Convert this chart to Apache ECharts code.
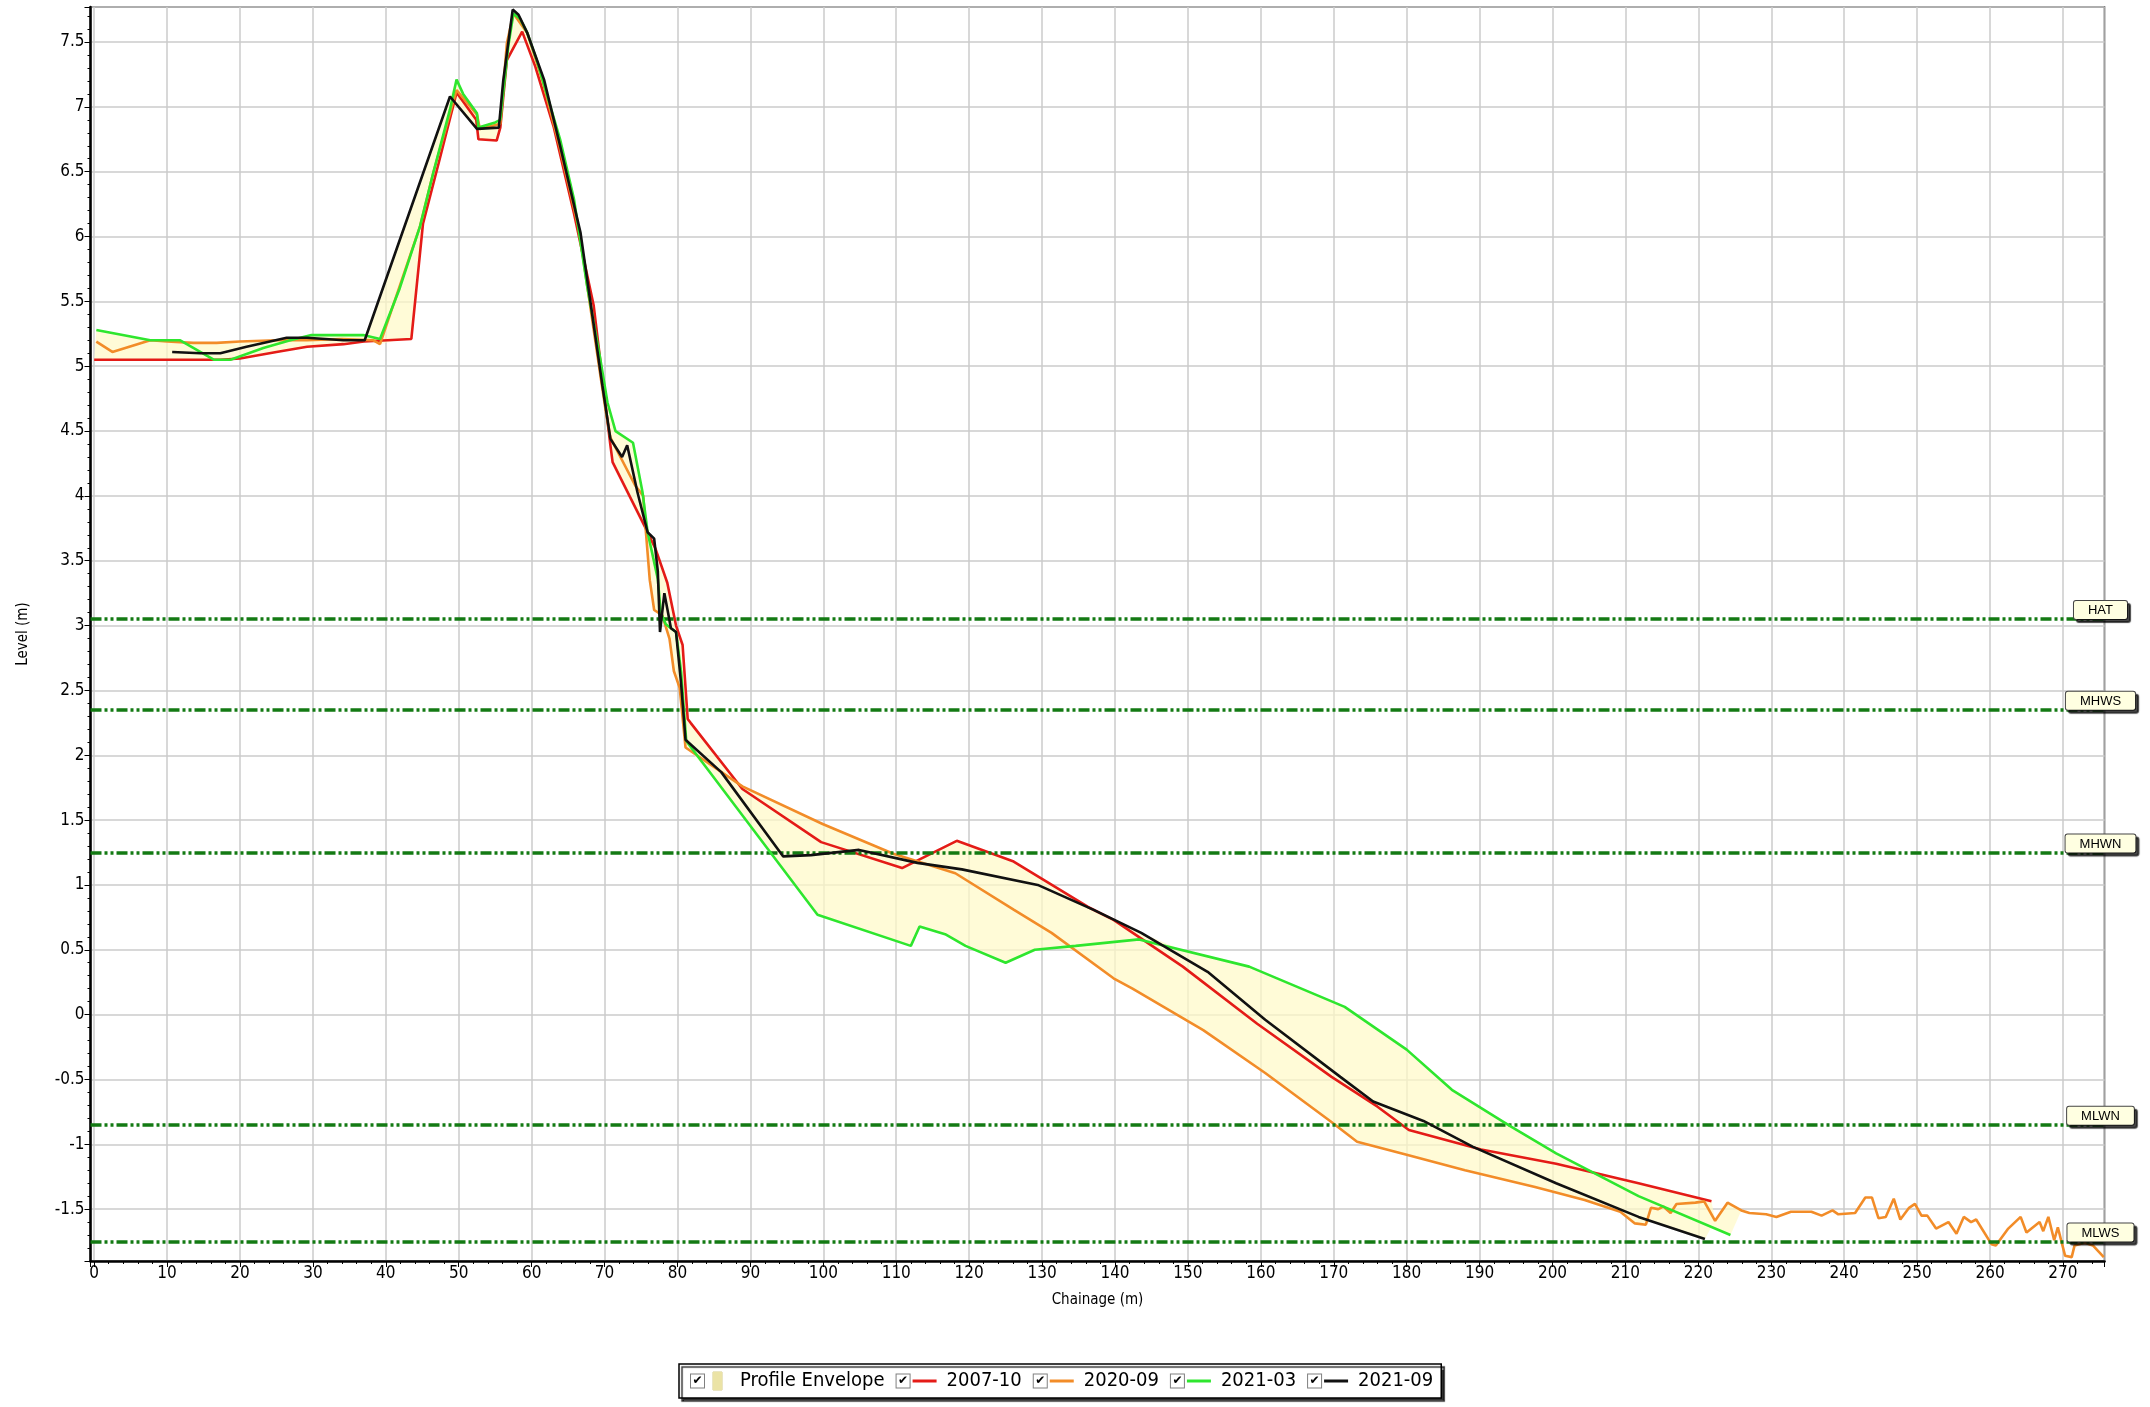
<!DOCTYPE html>
<html><head><meta charset="utf-8">
<script src="https://cdn.jsdelivr.net/npm/echarts@6/dist/echarts.min.js"></script>
<style>html,body{margin:0;padding:0;background:#fff}#c{width:2150px;height:1407px}</style>
</head><body><div id="c"></div>
<script>
// ---- Data (chainage m, level m) ----
const seriesNames = ['2007-10', '2020-09', '2021-03', '2021-09'];

const profile2007_10 = [[0,5.05],[17.3,5.05],[20,5.06],[25,5.11],[29.2,5.15],[34.2,5.17],[37,5.19],[43.5,5.21],[45.1,6.1],[47.4,6.6],[49.7,7.11],[52.4,6.9],[52.7,6.75],[55.2,6.74],[55.7,6.84],[56.6,7.36],[58.7,7.58],[60.5,7.31],[63,6.85],[65.8,6.18],[68.5,5.47],[70.8,4.39],[71.1,4.26],[75.9,3.72],[77,3.59],[78.6,3.33],[79.8,3.0],[80.7,2.85],[81.4,2.28],[81.8,2.25],[88.9,1.74],[99.7,1.33],[110.8,1.13],[118.3,1.34],[126.1,1.18],[136.3,0.83],[139.8,0.73],[149.3,0.37],[159.5,-0.07],[169.7,-0.48],[176,-0.71],[180.3,-0.89],[190.2,-1.04],[200.5,-1.15],[211.8,-1.30],[221.8,-1.44]];

const profile2020_09 = [[0.3,5.19],[2.5,5.11],[7.7,5.2],[10,5.19],[13.6,5.18],[16.8,5.18],[20,5.19],[25,5.2],[29.2,5.2],[34,5.21],[38.3,5.2],[39.2,5.17],[44.7,6.08],[46.5,6.49],[49.7,7.13],[52.5,6.94],[52.9,6.83],[55.7,6.87],[56.6,7.49],[57.5,7.72],[59.4,7.57],[61.5,7.2],[63.8,6.7],[66.5,6.05],[69.5,4.9],[70.2,4.64],[70.8,4.45],[74.2,4.08],[75.3,4.0],[75.7,3.7],[76.2,3.35],[76.8,3.12],[77.9,3.08],[78.9,2.9],[79.5,2.65],[80.3,2.52],[81.1,2.06],[88.9,1.76],[99.9,1.47],[109.6,1.24],[118.1,1.09],[126.1,0.81],[131.3,0.63],[139.8,0.28],[142.4,0.2],[152.1,-0.12],[160.6,-0.45],[169.5,-0.82],[173.2,-0.98],[180,-1.08],[188,-1.2],[197.6,-1.33],[204.4,-1.43],[209.3,-1.52],[211.3,-1.61],[212.8,-1.62],[213.5,-1.49],[214.5,-1.5],[215.2,-1.48],[216.2,-1.53],[217,-1.46],[219.6,-1.45],[220.8,-1.44],[222.3,-1.59],[224,-1.45],[225.9,-1.51],[227,-1.53],[229.3,-1.54],[230.7,-1.56],[232.7,-1.52],[235.5,-1.52],[236.9,-1.55],[238.4,-1.51],[239.2,-1.54],[241.5,-1.53],[242.9,-1.41],[243.8,-1.41],[244.7,-1.57],[245.7,-1.56],[246.8,-1.42],[247.7,-1.58],[248.9,-1.49],[249.7,-1.46],[250.6,-1.55],[251.4,-1.55],[252.6,-1.65],[254.3,-1.6],[255.4,-1.69],[256.4,-1.56],[257.4,-1.6],[258.1,-1.58],[260.2,-1.77],[260.8,-1.78],[262.5,-1.65],[264.2,-1.56],[265,-1.68],[266.8,-1.6],[267.3,-1.67],[268,-1.56],[268.8,-1.74],[269.3,-1.64],[270.3,-1.86],[271.2,-1.87],[271.6,-1.78],[273,-1.76],[274.1,-1.78],[275.6,-1.87]];

const profile2021_03 = [[0.3,5.28],[7.7,5.2],[11.8,5.2],[12.7,5.17],[16.4,5.05],[18.7,5.05],[23.2,5.14],[26.9,5.2],[29.8,5.24],[36.9,5.24],[39.2,5.21],[41.9,5.6],[44.7,6.08],[46.5,6.49],[48.8,6.98],[49.7,7.21],[50.6,7.1],[52.5,6.95],[52.7,6.84],[55,6.88],[55.7,6.9],[56.8,7.47],[57.5,7.72],[58.4,7.68],[59.4,7.57],[60.7,7.36],[63.9,6.75],[65.8,6.29],[67.6,5.62],[69.4,5.06],[70.4,4.72],[71.5,4.5],[73.9,4.41],[75.2,4.03],[75.9,3.72],[77.3,3.36],[77.7,3.1],[78.4,3.01],[79.8,2.95],[80.5,2.64],[81.2,2.11],[99.2,0.77],[112,0.53],[113.2,0.68],[116.7,0.62],[119.5,0.53],[125,0.4],[129,0.5],[134.6,0.53],[143.3,0.58],[158.4,0.37],[171.5,0.06],[180,-0.27],[186.2,-0.58],[194.2,-0.86],[200.5,-1.07],[211.8,-1.40],[224.4,-1.70]];

const profile2021_09 = [[10.7,5.11],[14.6,5.1],[17.3,5.1],[20.9,5.15],[26.4,5.22],[29.2,5.22],[34.2,5.2],[37.1,5.2],[48.8,7.08],[52.5,6.83],[55.5,6.84],[56.1,7.2],[57.4,7.75],[58.2,7.71],[59.4,7.57],[61.7,7.21],[63.9,6.7],[66.7,6.03],[69.7,4.85],[70.8,4.44],[72.4,4.3],[73.1,4.39],[74.5,4.03],[75.9,3.72],[76.8,3.67],[77.3,3.42],[77.6,2.95],[78.2,3.25],[78.7,3.1],[79.1,2.98],[79.8,2.95],[80.5,2.55],[81.1,2.12],[86,1.87],[94.5,1.22],[98.3,1.23],[104.9,1.27],[112.9,1.17],[119,1.12],[129.4,1.0],[137,0.81],[143.6,0.63],[152.7,0.33],[160.6,-0.04],[170.9,-0.48],[175.4,-0.67],[182.3,-0.82],[189.1,-1.02],[200.5,-1.30],[211.8,-1.56],[220.9,-1.73]];

const tideNames = ['HAT', 'MHWS', 'MHWN', 'MLWN', 'MLWS'];
const tideLevels = [3.05, 2.35, 1.245, -0.85, -1.75];

// ---- styles ----
const colors = ['#e41b17', '#f28c28', '#2ee62e', '#111111'];
const FONT = '"Liberation Sans Narrow","DejaVu Sans Condensed","Liberation Sans",sans-serif';
const profiles = [profile2007_10, profile2020_09, profile2021_03, profile2021_09];

// ---- envelope (min/max of all profiles at every surveyed chainage) ----
function interp(p, x) {
  if (x < p[0][0] || x > p[p.length - 1][0]) return null;
  for (let i = 0; i < p.length - 1; i++) {
    const a = p[i], b = p[i + 1];
    if (x >= a[0] && x <= b[0]) {
      if (b[0] === a[0]) return a[1];
      return a[1] + (b[1] - a[1]) * (x - a[0]) / (b[0] - a[0]);
    }
  }
  return p[p.length - 1][1];
}
const xs = Array.from(new Set(profiles.flatMap(p => p.map(d => d[0])))).sort((a, b) => a - b);
const upper = [], lower = [];
xs.forEach(x => {
  const v = profiles.map(p => interp(p, x)).filter(v => v !== null);
  upper.push([x, Math.max(...v)]);
  lower.push([x, Math.min(...v)]);
});
const envelope = upper.concat(lower.slice().reverse());

const chart = echarts.init(document.getElementById('c'), null, {renderer: 'canvas'});

const legendRich = {
  cb: {width: 13, height: 13, lineHeight: 13, borderColor: '#808080', borderWidth: 1, backgroundColor: '#fff', align: 'center', fontSize: 12, color: '#000', fontFamily: 'DejaVu Sans', fontWeight: 'bold'},
  env: {width: 9, height: 18, backgroundColor: '#ebe3a6', borderColor: '#d5cc88', borderWidth: 0.5, fontSize: 3},
  s3: {width: 3, fontSize: 3},
  s9: {width: 9, fontSize: 3},
  s10: {width: 10, fontSize: 3},
  s18: {width: 18, fontSize: 3}
};
colors.forEach((c, i) => { legendRich['l' + i] = {width: 24, height: 3, backgroundColor: c, fontSize: 3}; });

const lineSeries = seriesNames.map((n, i) => ({
  type: 'line', name: n, data: profiles[i], showSymbol: false, symbol: 'none',
  lineStyle: {color: colors[i], width: 2.6}, itemStyle: {color: colors[i]},
  z: 3 + i, animation: false, silent: true
}));

const axisCommon = {
  type: 'value',
  axisLine: {show: true, onZero: false, lineStyle: {color: '#000', width: 2.5}},
  axisTick: {show: true, inside: false, length: 6, lineStyle: {color: '#000', width: 1}},
  minorTick: {show: true, splitNumber: 5, length: 3, lineStyle: {color: '#000', width: 1}},
  splitLine: {show: true, lineStyle: {color: '#cbcbcb', width: 1.5}},
  nameLocation: 'middle',
  nameTextStyle: {fontSize: 15, color: '#000', fontFamily: FONT}
};

chart.setOption({
  animation: false,
  backgroundColor: '#fff',
  grid: {left: 90.5, right: 45.5, top: 7, bottom: 146, show: true, borderColor: '#222', borderWidth: 1.5, backgroundColor: 'transparent'},
  xAxis: Object.assign({}, axisCommon, {
    min: -0.5, max: 275.7, splitNumber: 28,
    name: 'Chainage (m)', nameGap: 32,
    axisLabel: {showMinLabel: false, showMaxLabel: false, fontSize: 17, color: '#000', margin: 4, fontFamily: FONT}
  }),
  yAxis: Object.assign({}, axisCommon, {
    min: -1.9, max: 7.77, splitNumber: 19,
    name: 'Level (m)', nameGap: 60,
    axisLabel: {showMinLabel: false, showMaxLabel: false, fontSize: 17, color: '#000', margin: 6, fontFamily: FONT}
  }),
  legend: {
    left: 679, top: 1364, orient: 'horizontal',
    padding: [7, 8, 7, 6], itemGap: 6, itemWidth: 1, itemHeight: 1, icon: 'rect',
    itemStyle: {color: 'rgba(0,0,0,0)', borderWidth: 0},
    backgroundColor: '#fff', borderColor: '#000', borderWidth: 1.5,
    shadowColor: 'rgba(0,0,0,0.8)', shadowOffsetX: 3, shadowOffsetY: 3, shadowBlur: 1,
    selectedMode: false,
    data: ['Profile Envelope'].concat(seriesNames),
    formatter: function (name) {
      if (name === 'Profile Envelope') return '{cb|✔}{s9| }{env| }{s18| }Profile Envelope';
      const i = seriesNames.indexOf(name);
      return '{cb|✔}{s3| }{l' + i + '| }{s10| }' + name;
    },
    textStyle: {fontSize: 20, color: '#000', fontFamily: FONT, rich: legendRich}
  },
  series: [
    {
      type: 'custom', name: 'Profile Envelope', data: envelope, encode: {x: 0, y: 1},
      z: 1, silent: true, clip: true, animation: false,
      itemStyle: {color: '#f6efb8'},
      renderItem: function (params, api) {
        if (params.dataIndex !== 0) return null;
        const pts = envelope.map(d => api.coord(d));
        return {type: 'polygon', shape: {points: pts}, style: {fill: 'rgba(255,250,200,0.72)', stroke: null}};
      }
    }
  ].concat(lineSeries).concat([
    {
      type: 'line', name: 'Tide levels', data: [], z: 10, animation: false, silent: true,
      markLine: {
        silent: true, animation: false, symbol: ['none', 'none'],
        lineStyle: {color: '#137a13', width: 3.5, type: [11, 3, 3, 3, 3, 3], opacity: 1},
        label: {
          show: true, position: 'end', distance: -4, align: 'center', verticalAlign: 'bottom',
          formatter: p => '{box|' + p.name + '}',
          rich: {box: {backgroundColor: '#ffffe1', borderColor: '#444', borderWidth: 1, borderRadius: 2,
                 padding: [3, 14, 2, 14], fontSize: 13, color: '#000', fontFamily: '"Liberation Sans",sans-serif',
                 shadowColor: 'rgba(0,0,0,0.7)', shadowOffsetX: 3, shadowOffsetY: 3, shadowBlur: 1}}
        },
        data: tideLevels.map((v, i) => ({yAxis: v, name: tideNames[i]}))
      }
    }
  ])
});
</script></body></html>
